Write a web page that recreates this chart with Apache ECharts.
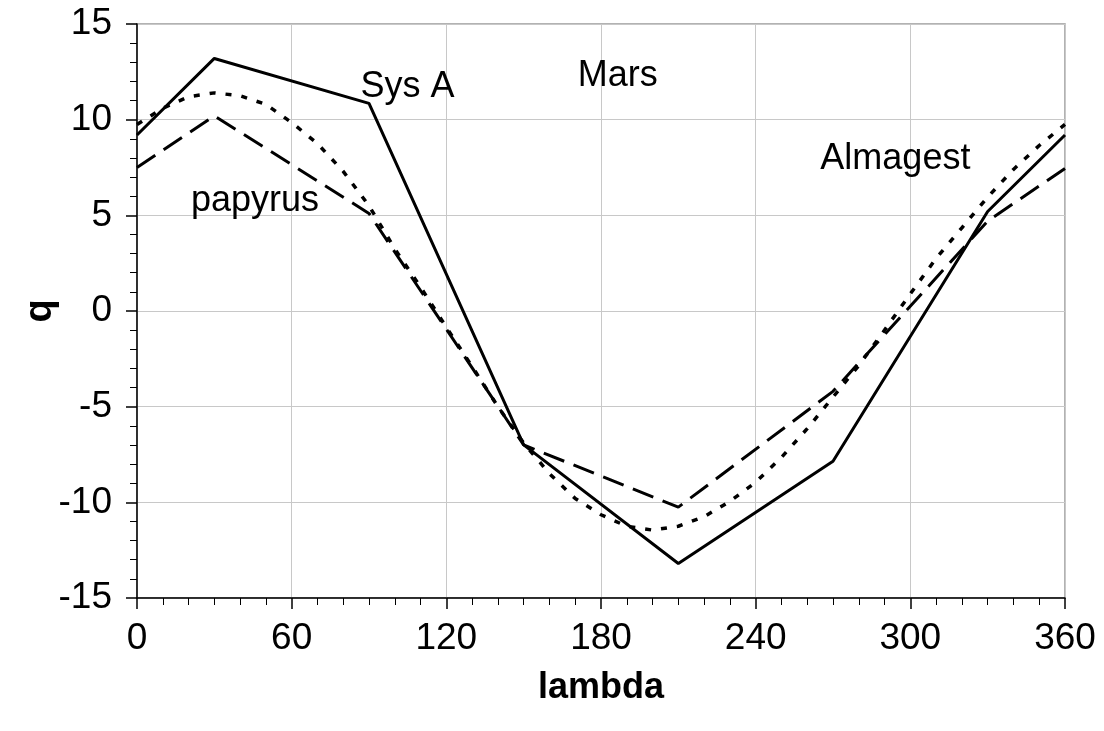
<!DOCTYPE html>
<html>
<head>
<meta charset="utf-8">
<script src="https://cdn.jsdelivr.net/npm/echarts@6/dist/echarts.min.js"></script>
<style>
  html, body { margin: 0; padding: 0; background: #fff; }
  #main { width: 1104px; height: 731px; }
</style>
</head>
<body>
<div id="main"></div>
<script>
// Sys A (solid)
var sysALambda = [0, 30, 90, 150, 210, 270, 330, 360];
var sysAQ = [9.2, 13.2, 10.85, -7.0, -13.2, -7.85, 5.2, 9.2];

// papyrus (dashed)
var papyrusLambda = [0, 30, 90, 150, 210, 270, 330, 360];
var papyrusQ = [7.5, 10.2, 5.1, -7.0, -10.25, -4.2, 4.7, 7.45];

// Almagest (dotted)
var almagestLambda = [0, 10, 20, 30, 40, 50, 60, 70, 80, 90, 100, 110, 120, 130, 140, 150, 160, 170, 180,
    190, 200, 210, 220, 230, 240, 250, 260, 270, 280, 290, 300, 310, 320, 330, 340, 350, 360];
var almagestQ = [9.75, 10.6, 11.2, 11.4, 11.25, 10.8, 9.85, 8.75, 7.3, 5.5, 3.25, 1.25, -0.85, -2.9, -5.0, -6.9, -8.5, -9.8, -10.65,
    -11.25, -11.45, -11.25, -10.75, -9.95, -8.95, -7.65, -6.15, -4.5, -2.85, -1.0, 0.9, 2.75, 4.35, 5.95, 7.4, 8.65, 9.75];

// 图中文字标注（数据坐标）
var noteNames = ['Sys A', 'Mars', 'Almagest', 'papyrus'];
var noteLambda = [104.9, 186.5, 294.2, 45.8];
var noteQ = [11.72, 12.27, 7.92, 5.73];

var xTicks = [0, 60, 120, 180, 240, 300, 360];

function pairs(xs, ys) {
    var out = [];
    for (var i = 0; i < xs.length; i++) {
        out.push([xs[i], ys[i]]);
    }
    return out;
}

var notes = [];
for (var i = 0; i < noteNames.length; i++) {
    notes.push({name: noteNames[i], value: [noteLambda[i], noteQ[i]]});
}

var font = "'Liberation Sans', Arial, sans-serif";
var myChart = echarts.init(document.getElementById('main'));
var option = {
    animation: false,
    backgroundColor: '#fff',
    grid: {
        left: 137,
        right: 39,
        top: 24,
        bottom: 133,
        show: true,
        borderColor: '#999',
        borderWidth: 1.5,
        backgroundColor: 'transparent'
    },
    xAxis: {
        type: 'value',
        min: xTicks[0],
        max: xTicks[xTicks.length - 1],
        interval: 60,
        name: 'lambda',
        nameLocation: 'middle',
        nameGap: 72,
        nameTextStyle: {fontFamily: font, fontSize: 36, fontWeight: 'bold', color: '#000'},
        axisLine: {show: true, onZero: false, lineStyle: {color: '#000', width: 1.5}},
        axisTick: {show: true, length: 11, lineStyle: {color: '#000', width: 1.5}},
        minorTick: {show: true, splitNumber: 6, length: 7, lineStyle: {color: '#000', width: 1}},
        axisLabel: {fontFamily: font, fontSize: 37, color: '#000', margin: 22},
        splitLine: {show: true, lineStyle: {color: '#c8c8c8', width: 1}}
    },
    yAxis: {
        type: 'value',
        min: -15,
        max: 15,
        interval: 5,
        name: 'q',
        nameLocation: 'middle',
        nameGap: 77,
        nameMoveOverlap: false,
        nameRotate: 90,
        nameTextStyle: {fontFamily: font, fontSize: 38, fontWeight: 'bold', color: '#000'},
        axisLine: {show: true, onZero: false, lineStyle: {color: '#000', width: 1.5}},
        axisTick: {show: true, length: 11, lineStyle: {color: '#000', width: 1.5}},
        minorTick: {show: true, splitNumber: 5, length: 7, lineStyle: {color: '#000', width: 1}},
        axisLabel: {fontFamily: font, fontSize: 37, color: '#000', margin: 25},
        splitLine: {show: true, lineStyle: {color: '#c8c8c8', width: 1}}
    },
    series: [
        {
            name: 'Sys A',
            type: 'line',
            symbol: 'none',
            data: pairs(sysALambda, sysAQ),
            lineStyle: {color: '#000', width: 3}
        },
        {
            name: 'papyrus',
            type: 'line',
            symbol: 'none',
            data: pairs(papyrusLambda, papyrusQ),
            lineStyle: {color: '#000', width: 3, type: [22, 10]}
        },
        {
            name: 'Almagest',
            type: 'line',
            symbol: 'none',
            data: pairs(almagestLambda, almagestQ),
            lineStyle: {color: '#000', width: 3.5, type: [6, 10]}
        },
        {
            name: 'notes',
            type: 'scatter',
            symbolSize: 0,
            data: notes,
            silent: true,
            itemStyle: {opacity: 1},
            label: {
                show: true,
                position: 'inside',
                formatter: '{b}',
                fontFamily: font,
                fontSize: 36,
                color: '#000',
                opacity: 1,
                textBorderWidth: 0
            }
        }
    ]
};
myChart.setOption(option);
</script>
</body>
</html>
